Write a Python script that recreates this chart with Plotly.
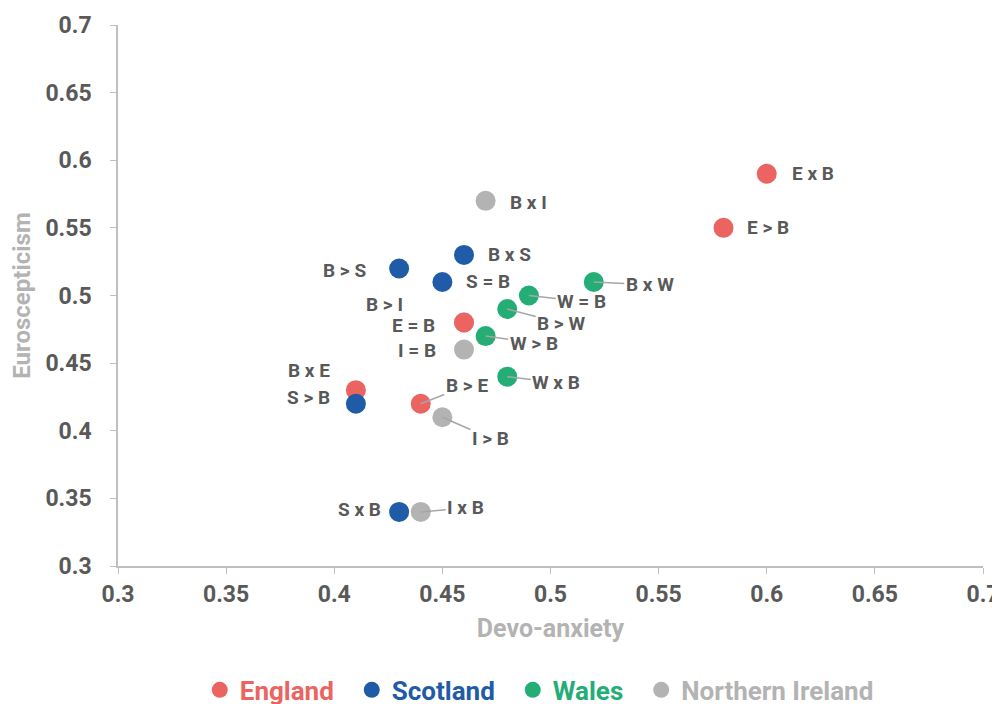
import plotly.graph_objects as go

# ---- data ----
england_labels = ["E x B", "E > B", "E = B", "B > E", "B x E"]
england_x = [0.60, 0.58, 0.46, 0.44, 0.41]
england_y = [0.59, 0.55, 0.48, 0.42, 0.43]

scotland_labels = ["B x S", "B > S", "S = B", "S > B", "S x B"]
scotland_x = [0.46, 0.43, 0.45, 0.41, 0.43]
scotland_y = [0.53, 0.52, 0.51, 0.42, 0.34]

wales_labels = ["B x W", "W = B", "B > W", "W > B", "W x B"]
wales_x = [0.52, 0.49, 0.48, 0.47, 0.48]
wales_y = [0.51, 0.50, 0.49, 0.47, 0.44]

ni_labels = ["B x I", "B > I", "I = B", "I > B", "I x B"]
ni_x = [0.47, 0.46, 0.46, 0.45, 0.44]
ni_y = [0.57, 0.48, 0.46, 0.41, 0.34]

x_ticks = [0.3, 0.35, 0.4, 0.45, 0.5, 0.55, 0.6, 0.65, 0.7]
y_ticks = [0.3, 0.35, 0.4, 0.45, 0.5, 0.55, 0.6, 0.65, 0.7]

# ---- styles ----
FONT = "Roboto"
TXT = "#595959"
GREY_AX = "#BFBFBF"
TITLE_C = "#B3B3B3"
PAD = "&nbsp;&nbsp;"
series = [
    ("Northern Ireland", ni_labels, ni_x, ni_y, "#B3B3B3", 4, ""),
    ("England", england_labels, england_x, england_y, "#EB6461", 1, PAD),
    ("Scotland", scotland_labels, scotland_x, scotland_y, "#1F5BA6", 2, PAD),
    ("Wales", wales_labels, wales_x, wales_y, "#24AE76", 3, PAD),
]

# label placement: (mode, a, b, anchor)
# mode "s": plain shifted text (xshift, yshift); mode "a": leader line (ax, ay)
placement = {
    "E x B": ("s", 23, 0, "left"),
    "E > B": ("s", 21, 0, "left"),
    "B x S": ("s", 22, 0, "left"),
    "B > S": ("s", -31, -2, "right"),
    "S = B": ("s", 22, 0, "left"),
    "B > I": ("s", -59, 18, "right"),
    "E = B": ("s", -27, -3, "right"),
    "I = B": ("s", -26, -1, "right"),
    "B x E": ("s", -47, 20, "center"),
    "S > B": ("s", -47, 6, "center"),
    "S x B": ("s", -16, 2, "right"),
    "B x I": ("s", 22, -2, "left"),
    "B > E": ("a", 46, -18, "center"),
    "I > B": ("a", 48, 21, "center"),
    "I x B": ("a", 45, -4, "center"),
    "B x W": ("a", 56, 3, "center"),
    "W = B": ("a", 53, 6, "center"),
    "B > W": ("a", 54, 14, "center"),
    "W > B": ("a", 48, 7, "center"),
    "W x B": ("a", 49, 6, "center"),
}

fig = go.Figure()
annotations = []
for name, labels, xs, ys, color, rank, pad in series:
    fig.add_trace(go.Scatter(
        x=xs, y=ys, mode="markers",
        name=f"<span style='color:{color}'>{name}</span>{pad}",
        legendrank=rank,
        marker=dict(size=20, color=color, line=dict(width=0)),
        hoverinfo="skip",
    ))
    for lab, x, y in zip(labels, xs, ys):
        mode, a, b, anchor = placement[lab]
        base = dict(x=x, y=y, xref="x", yref="y", text=lab,
                    font=dict(family=FONT, size=19, color=TXT, weight="bold"))
        if mode == "s":
            base.update(showarrow=False, xanchor=anchor, xshift=a, yshift=b)
        else:
            base.update(showarrow=True, arrowhead=0, arrowwidth=1.5,
                        arrowcolor="#A6A6A6", ax=a, ay=b, standoff=0,
                        xanchor="center", yanchor="middle")
        annotations.append(base)

# page body adds an 8px offset; margins compensate so the plot area
# lands at x 118..983, y 25..566 in the window
fig.update_layout(
    width=1000, height=704,
    margin=dict(l=110, r=25, t=17, b=146, autoexpand=False),
    paper_bgcolor="white", plot_bgcolor="white",
    font=dict(family=FONT, color=TXT),
    showlegend=True,
    legend=dict(orientation="h", x=0.487, xanchor="center", y=-0.229, yanchor="middle",
                font=dict(family=FONT, size=26, weight="bold"),
                itemsizing="trace", traceorder="normal"),
    annotations=annotations,
)
fig.update_xaxes(
    range=[0.3, 0.7], tickvals=x_ticks, ticktext=[f"{v:g}" for v in x_ticks],
    automargin=False,
    showgrid=False, zeroline=False, showline=True, linecolor=GREY_AX, linewidth=1.5,
    ticks="outside", ticklen=6, tickcolor=GREY_AX, ticklabelstandoff=1,
    tickfont=dict(family=FONT, size=23, color=TXT, weight="bold"),
    title=dict(text="Devo-anxiety", standoff=12,
               font=dict(family=FONT, size=25, color=TITLE_C, weight="bold")),
)
fig.update_yaxes(
    range=[0.3, 0.7], tickvals=y_ticks, ticktext=[f"{v:g}" for v in y_ticks],
    automargin=False,
    showgrid=False, zeroline=False, showline=True, linecolor=GREY_AX, linewidth=1.5,
    ticks="outside", ticklen=6, tickcolor=GREY_AX, ticklabelstandoff=14,
    tickfont=dict(family=FONT, size=23, color=TXT, weight="bold"),
    title=dict(text="Euroscepticism", standoff=8,
               font=dict(family=FONT, size=24, color=TITLE_C, weight="bold")),
)

fig.write_html("out.html")
